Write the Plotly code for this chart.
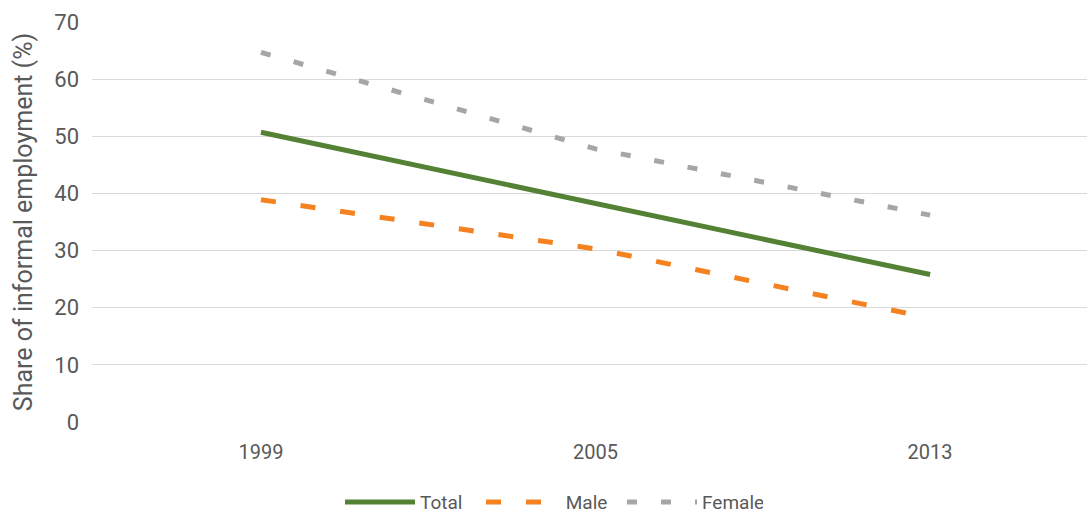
import plotly.graph_objects as go

years = ["1999", "2005", "2013"]
total = [50.7, 38.2, 25.8]
male = [38.9, 30.3, 18.2]
female = [64.7, 47.8, 36.2]

text_color = "#595959"
font_family = "Roboto, 'Open Sans', sans-serif"

fig = go.Figure()
fig.add_trace(go.Scatter(
    x=years, y=total, name="Total", mode="lines",
    line=dict(color="#548235", width=5),
))
fig.add_trace(go.Scatter(
    x=years, y=male, name=" Male", mode="lines",
    line=dict(color="#f58220", width=5, dash="15px,25px"),
))
fig.add_trace(go.Scatter(
    x=years, y=female, name="Female", mode="lines",
    line=dict(color="#a6a6a6", width=5, dash="10px,24px"),
))

fig.update_layout(
    width=1087, height=513,
    margin=dict(l=92, r=0, t=22, b=91),
    paper_bgcolor="white", plot_bgcolor="white",
    font=dict(family=font_family, color=text_color),
    showlegend=True,
    legend=dict(
        orientation="h", xref="container", x=340 / 1087, xanchor="left",
        yref="container", y=0.021, yanchor="middle",
        font=dict(size=19, color=text_color), itemwidth=70,
        entrywidth=56, entrywidthmode="pixels",
        traceorder="normal",
    ),
    xaxis=dict(
        type="category", range=[-0.505, 2.469],
        showgrid=False, zeroline=False, showline=False,
        ticks="", tickfont=dict(size=20, color=text_color),
        ticklabelstandoff=16,
    ),
    yaxis=dict(
        range=[0, 70], dtick=10, showgrid=True,
        gridcolor="#d9d9d9", gridwidth=1, zeroline=False, showline=False,
        ticks="", tickfont=dict(size=22, color=text_color),
        ticklabelstandoff=12,
        title=dict(text="Share of informal employment (%)",
                   font=dict(size=25, color=text_color), standoff=14),
    ),
)

fig.write_html("out.html")
